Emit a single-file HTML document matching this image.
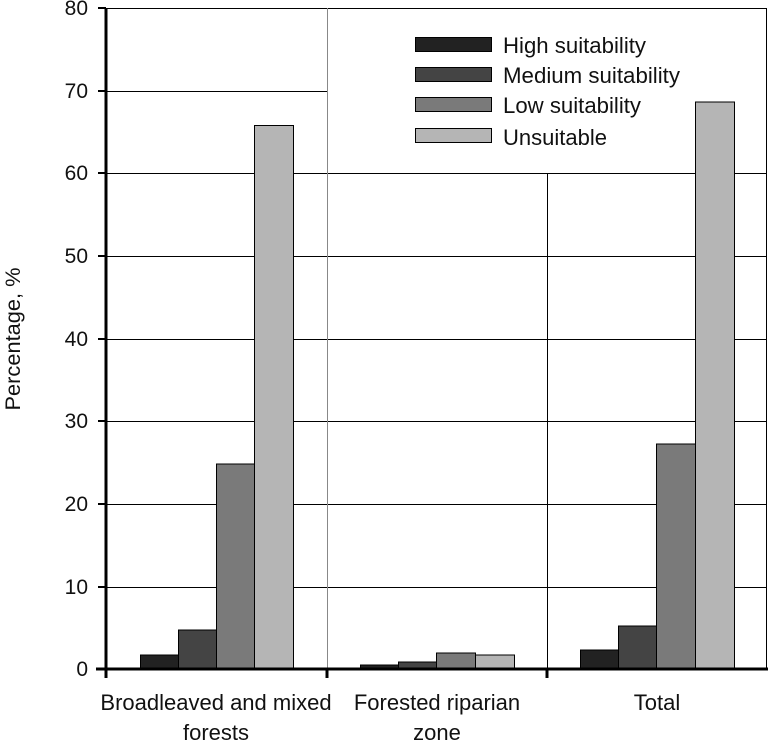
<!DOCTYPE html>
<html><head><meta charset="utf-8"><style>
html,body{margin:0;padding:0;background:#fff;}
svg{display:block;font-family:"Liberation Sans",sans-serif;}
</style></head><body>
<svg width="768" height="742" viewBox="0 0 768 742">
<g stroke="#000" stroke-width="1">
<line x1="107" y1="8.5" x2="767" y2="8.5"/>
<line x1="766.5" y1="8" x2="766.5" y2="669"/>
<line x1="107" y1="91.5" x2="327" y2="91.5"/>
<line x1="107" y1="173.5" x2="767" y2="173.5"/>
<line x1="107" y1="256.5" x2="767" y2="256.5"/>
<line x1="107" y1="339.5" x2="767" y2="339.5"/>
<line x1="107" y1="421.5" x2="767" y2="421.5"/>
<line x1="107" y1="504.5" x2="767" y2="504.5"/>
<line x1="107" y1="587.5" x2="767" y2="587.5"/>
<line x1="547.5" y1="173" x2="547.5" y2="669"/>
</g>
<line x1="327.5" y1="8" x2="327.5" y2="669" stroke="#888" stroke-width="1"/>
<g stroke="#000" stroke-width="1">
<rect x="140.5" y="655" width="38" height="14" fill="#222"/>
<rect x="178.5" y="630" width="38" height="39" fill="#444"/>
<rect x="216.5" y="464" width="38" height="205" fill="#7a7a7a"/>
<rect x="254.5" y="125.5" width="39" height="543.5" fill="#b5b5b5"/>
<rect x="360.5" y="665" width="38" height="4" fill="#222"/>
<rect x="398.5" y="662" width="38" height="7" fill="#444"/>
<rect x="436.5" y="653" width="39" height="16" fill="#7a7a7a"/>
<rect x="475.5" y="655" width="39" height="14" fill="#b5b5b5"/>
<rect x="580.5" y="650" width="38" height="19" fill="#222"/>
<rect x="618.5" y="626" width="38" height="43" fill="#444"/>
<rect x="656.5" y="444" width="39" height="225" fill="#7a7a7a"/>
<rect x="695.5" y="102" width="39" height="567" fill="#b5b5b5"/>
</g>
<g stroke="#000" stroke-width="3">
<line x1="106" y1="8" x2="106" y2="670"/>
<line x1="96" y1="669" x2="768" y2="669"/>
<line x1="106" y1="669" x2="106" y2="678"/>
<line x1="327" y1="669" x2="327" y2="678"/>
<line x1="547" y1="669" x2="547" y2="678"/>
</g>
<g stroke="#000" stroke-width="2">
<line x1="98" y1="8" x2="106" y2="8"/><line x1="98" y1="91" x2="106" y2="91"/>
<line x1="98" y1="173" x2="106" y2="173"/><line x1="98" y1="256" x2="106" y2="256"/>
<line x1="98" y1="339" x2="106" y2="339"/><line x1="98" y1="421" x2="106" y2="421"/>
<line x1="98" y1="504" x2="106" y2="504"/><line x1="98" y1="587" x2="106" y2="587"/>
</g>
<g font-size="21" text-anchor="end" fill="#111">
<text x="88" y="15">80</text><text x="88" y="98">70</text><text x="88" y="180">60</text>
<text x="88" y="263">50</text><text x="88" y="346">40</text><text x="88" y="428">30</text>
<text x="88" y="511">20</text><text x="88" y="594">10</text><text x="88" y="676">0</text>
</g>
<text transform="translate(20,339) rotate(-90)" font-size="21" text-anchor="middle" fill="#111" textLength="143" lengthAdjust="spacingAndGlyphs">Percentage, %</text>
<g font-size="22" text-anchor="middle" fill="#111">
<text x="216" y="710">Broadleaved and mixed</text><text x="216" y="740">forests</text>
<text x="437" y="710">Forested riparian</text><text x="437" y="740">zone</text>
<text x="657" y="710">Total</text>
</g>
<g stroke="#000" stroke-width="1">
<rect x="415.5" y="37.5" width="76" height="14" fill="#222"/>
<rect x="415.5" y="67.5" width="76" height="14" fill="#444"/>
<rect x="415.5" y="97.5" width="76" height="14" fill="#7a7a7a"/>
<rect x="415.5" y="128.5" width="76" height="14" fill="#b5b5b5"/>
</g>
<g font-size="22" fill="#111">
<text x="503" y="53" textLength="143" lengthAdjust="spacingAndGlyphs">High suitability</text>
<text x="503" y="83" textLength="177" lengthAdjust="spacingAndGlyphs">Medium suitability</text>
<text x="503" y="113" textLength="138" lengthAdjust="spacingAndGlyphs">Low suitability</text>
<text x="503" y="145" textLength="104" lengthAdjust="spacingAndGlyphs">Unsuitable</text>
</g>
</svg>
</body></html>
